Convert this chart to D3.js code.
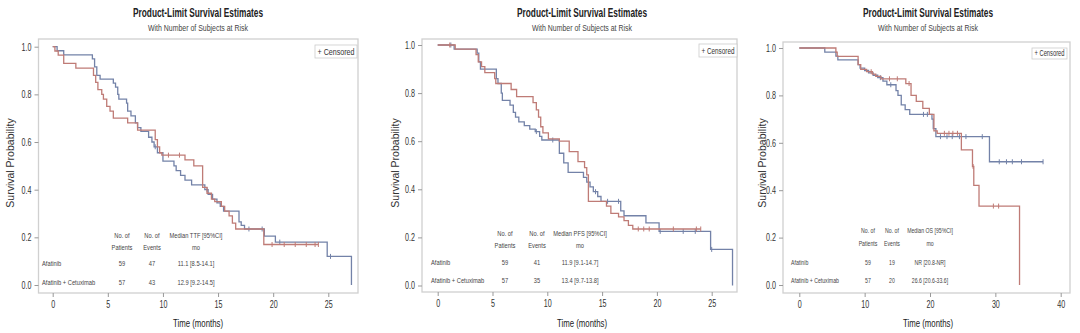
<!DOCTYPE html>
<html><head><meta charset="utf-8">
<script src="https://cdn.jsdelivr.net/npm/d3@7"></script>
<style>
html,body{margin:0;padding:0;background:#fff;}
svg{display:block;}
.nar{font-family:"Liberation Sans Narrow","Arial Narrow","Liberation Sans",Arial,sans-serif;}
.reg{font-family:"Liberation Sans",Arial,sans-serif;}
</style></head>
<body>
<svg id="c" width="1080" height="333"></svg>
<script>
// ---------- DATA ----------
const chartTitle = "Product-Limit Survival Estimates";
const chartSubtitle = "With Number of Subjects at Risk";
const xAxisTitle = "Time (months)";
const yAxisTitle = "Survival Probability";
const legendText = "+ Censored";
const groups = ["Afatinib", "Afatinib + Cetuximab"];
const yTicks = [0.0, 0.2, 0.4, 0.6, 0.8, 1.0];
const xTicksTTF = [0, 5, 10, 15, 20, 25];
const xTicksPFS = [0, 5, 10, 15, 20, 25];
const xTicksOS = [0, 10, 20, 30, 40];

// panel 1: Time to treatment failure
const ttfAfatinib = [[0,1],[0.4,0.983],[1.0,0.966],[3.6,0.949],[3.8,0.915],[4.0,0.88],[4.3,0.864],[5.5,0.847],[5.7,0.83],[5.9,0.80],[6.0,0.78],[6.7,0.763],[6.8,0.73],[7.1,0.71],[7.5,0.68],[7.7,0.66],[8.0,0.645],[8.7,0.62],[9.0,0.60],[9.2,0.58],[9.5,0.555],[10.0,0.52],[11.0,0.50],[11.2,0.48],[11.6,0.46],[12.0,0.44],[12.6,0.42],[13.8,0.40],[14.1,0.38],[14.5,0.36],[14.9,0.345],[15.2,0.33],[15.5,0.31],[16.9,0.265],[17.1,0.25],[17.4,0.235],[19.2,0.205],[20.2,0.18],[24.9,0.12],[27.1,0]];
const ttfCombo = [[0,1],[0.2,0.982],[0.5,0.965],[1.0,0.93],[2.1,0.91],[3.7,0.88],[3.9,0.85],[4.1,0.82],[4.45,0.80],[4.6,0.78],[4.9,0.75],[5.2,0.73],[5.5,0.70],[6.8,0.68],[7.7,0.65],[9.3,0.61],[9.5,0.58],[9.7,0.555],[9.9,0.545],[12.0,0.525],[12.8,0.50],[13.6,0.41],[14.0,0.385],[14.4,0.36],[14.7,0.35],[15.3,0.33],[15.6,0.31],[16.0,0.29],[16.3,0.26],[16.6,0.235],[19.15,0.17],[24.1,0.17]];
const ttfCensAfatinib = [9.3, 14.0, 17.8, 19.0, 20.6, 25.2];
const ttfCensCombo = [10.5, 11.5, 19.9, 21.0, 22.0, 23.0, 23.8, 24.1];
const ttfTable = [["59","47","11.1 [8.5-14.1]"],["57","43","12.9 [9.2-14.5]"]];

// panel 2: Progression-free survival
const pfsAfatinib = [[0,1],[1.5,0.983],[3.6,0.966],[3.75,0.93],[3.9,0.90],[5.35,0.86],[5.5,0.84],[5.8,0.80],[5.9,0.77],[6.6,0.75],[6.9,0.72],[7.1,0.70],[7.4,0.68],[7.9,0.665],[8.4,0.65],[8.9,0.64],[9.3,0.62],[9.5,0.605],[11.1,0.55],[11.5,0.51],[11.9,0.47],[13.3,0.45],[13.6,0.43],[13.9,0.41],[14.2,0.39],[14.6,0.37],[14.9,0.35],[16.7,0.31],[17.0,0.29],[19.0,0.26],[20.2,0.225],[24.9,0.15],[26.9,0]];
const pfsCombo = [[0,1],[1.6,0.983],[3.5,0.96],[3.7,0.93],[4.0,0.91],[4.3,0.885],[5.2,0.86],[5.3,0.84],[6.7,0.815],[7.2,0.785],[8.7,0.76],[9.0,0.73],[9.2,0.70],[9.4,0.66],[9.6,0.635],[10.1,0.61],[11.1,0.60],[12.0,0.557],[12.8,0.515],[13.4,0.49],[13.6,0.46],[13.75,0.35],[15.4,0.33],[15.8,0.30],[16.5,0.285],[17.0,0.27],[17.4,0.25],[17.8,0.235],[24.0,0.235]];
const pfsCensAfatinib = [1.2, 9.0, 10.5, 14.4, 15.5, 16.5, 20.3, 22.4, 23.5, 25.0];
const pfsCensCombo = [1.1, 18.3, 18.8, 19.3, 21.5, 23.6, 24.0];
const pfsTable = [["59","41","11.9 [9.1-14.7]"],["57","35","13.4 [9.7-13.8]"]];

// panel 3: Overall survival
const osAfatinib = [[0,1],[3.9,0.983],[5.6,0.966],[5.9,0.95],[9.0,0.93],[9.3,0.915],[10.0,0.905],[10.6,0.895],[11.3,0.885],[12.0,0.875],[12.8,0.86],[13.4,0.845],[14.8,0.82],[15.1,0.80],[15.6,0.76],[16.2,0.74],[16.9,0.72],[20.3,0.70],[20.5,0.66],[20.9,0.626],[29.1,0.52],[37.3,0.52]];
const osCombo = [[0,1],[5.6,0.982],[5.8,0.965],[9.0,0.93],[9.4,0.91],[10.3,0.90],[11.2,0.89],[11.7,0.88],[12.5,0.87],[16.3,0.85],[17.1,0.80],[17.9,0.775],[18.9,0.745],[19.9,0.72],[20.6,0.65],[21.1,0.64],[24.8,0.57],[26.5,0.50],[26.7,0.42],[27.5,0.333],[33.7,0]];
const osCensAfatinib = [12.4, 14.0, 19.0, 19.6, 21.6, 22.6, 23.4, 24.5, 25.5, 28.0, 30.6, 31.7, 32.6, 34.0, 37.3];
const osCensCombo = [11.0, 13.8, 15.0, 16.8, 22.2, 22.9, 23.5, 24.2, 26.6, 29.7, 30.5];
const osTable = [["59","19","NR [20.8-NR]"],["57","20","26.6 [20.6-33.6]"]];

// ---------- LAYOUT ----------
const colors = ["#7382a8", "#bf7b76"];
const panels = [
  {frame:[38.5,39,358,293], x0:52.7, xT:25, xTpx:328.3, y1:46.7, y0:285, ticks:xTicksTTF,
   a:ttfAfatinib, b:ttfCombo, ca:ttfCensAfatinib, cb:ttfCensCombo, table:ttfTable, med:"Median TTF [95%CI]",
   cx:198, ytx:10, cols:[122,152,196], rowX:42, hy:[235,247], ry:[263,282], leg:[315,45,357,58], tf:0.8},
  {frame:[422,39,737,292], x0:437.7, xT:25, xTpx:711.7, y1:45, y0:285.5, ticks:xTicksPFS,
   a:pfsAfatinib, b:pfsCombo, ca:pfsCensAfatinib, cb:pfsCensCombo, table:pfsTable, med:"Median PFS [95%CI]",
   cx:582, ytx:395, cols:[505,537,580], rowX:431, hy:[233,245], ry:[262,280], leg:[699,44,737,57], tf:0.8},
  {frame:[783,42,1070,293], x0:799.3, xT:40, xTpx:1060.7, y1:48, y0:285, ticks:xTicksOS,
   a:osAfatinib, b:osCombo, ca:osCensAfatinib, cb:osCensCombo, table:osTable, med:"Median OS [95%CI]",
   cx:928, ytx:762, cols:[868,892,930], rowX:791, hy:[230,243], ry:[262,280], leg:[1032,48,1067,59], tf:0.72}
];

const svg = d3.select("#c");

function condense(sel, f){
  sel.each(function(){
    const L = this.getComputedTextLength();
    d3.select(this).attr("textLength", L * f).attr("lengthAdjust", "spacingAndGlyphs");
  });
  return sel;
}
function fitWidth(sel, w){
  sel.attr("textLength", w).attr("lengthAdjust", "spacingAndGlyphs");
  return sel;
}

function stepAt(data, t){
  let s = data[0][1];
  for (const d of data){ if (d[0] <= t) s = d[1]; else break; }
  return s;
}

panels.forEach(p => {
  const g = svg.append("g");
  const [fl, ft, fr, fb] = p.frame;
  const x = d3.scaleLinear().domain([0, p.xT]).range([p.x0, p.xTpx]);
  const y = d3.scaleLinear().domain([0, 1]).range([p.y0, p.y1]);

  // titles
  fitWidth(g.append("text").attr("class","nar").attr("x",p.cx).attr("y",17).attr("text-anchor","middle")
    .attr("font-size",12).attr("font-weight","bold").attr("fill","#222").text(chartTitle), 130);
  fitWidth(g.append("text").attr("class","nar").attr("x",p.cx).attr("y",30.5).attr("text-anchor","middle")
    .attr("font-size",9.5).attr("fill","#444").text(chartSubtitle), 100);

  // frame
  g.append("rect").attr("x",fl).attr("y",ft).attr("width",fr-fl).attr("height",fb-ft)
    .attr("fill","none").attr("stroke","#d0d0d0").attr("stroke-width",1.3);

  // axes
  const yAx = g.append("g").attr("transform",`translate(${fl},0)`)
    .call(d3.axisLeft(y).tickValues(yTicks).tickFormat(d3.format(".1f")).tickSize(4).tickPadding(3));
  const xAx = g.append("g").attr("transform",`translate(0,${fb})`)
    .call(d3.axisBottom(x).tickValues(p.ticks).tickSize(4).tickPadding(4));
  [yAx, xAx].forEach(a => {
    a.select(".domain").remove();
    a.selectAll(".tick line").attr("stroke","#999");
    a.selectAll(".tick text").attr("class","nar").attr("font-size",10.5).attr("fill","#333");
    condense(a.selectAll(".tick text"), 0.68);
  });

  fitWidth(g.append("text").attr("class","nar").attr("x",p.cx).attr("y",327).attr("text-anchor","middle")
    .attr("font-size",11).attr("fill","#222").text(xAxisTitle), 50);
  g.append("text").attr("class","reg").attr("transform",`translate(${p.ytx+4},${163}) rotate(-90)`)
    .attr("text-anchor","middle").attr("font-size",10.5).attr("fill","#333").text(yAxisTitle);

  // legend
  const [lx0, ly0, lx1, ly1] = p.leg;
  g.append("rect").attr("x",lx0).attr("y",ly0).attr("width",lx1-lx0).attr("height",ly1-ly0)
    .attr("fill","#fff").attr("stroke","#ccc").attr("stroke-width",0.8);
  fitWidth(g.append("text").attr("class","nar").attr("x",(lx0+lx1)/2).attr("y",ly1-3.5).attr("text-anchor","middle")
    .attr("font-size",9).attr("fill","#333").text(legendText), lx1-lx0-5);

  // curves
  const line = d3.line().x(d => x(d[0])).y(d => y(d[1])).curve(d3.curveStepAfter);
  [[p.a, p.ca, colors[0]], [p.b, p.cb, colors[1]]].forEach(([data, cens, col]) => {
    g.append("path").datum(data).attr("d", line).attr("fill","none")
      .attr("stroke", col).attr("stroke-width", 1.3);
    g.selectAll(null).data(cens).enter().append("line")
      .attr("x1", d => x(d)).attr("x2", d => x(d))
      .attr("y1", d => y(stepAt(data, d)) - 2.5).attr("y2", d => y(stepAt(data, d)) + 2.5)
      .attr("stroke", col).attr("stroke-width", 1);
  });

  // table
  const fs = 7.2;
  const tf = p.tf;
  const tcol = "#444";
  const headers = [["No. of","Patients"],["No. of","Events"],[p.med,"mo"]];
  headers.forEach((h, i) => {
    h.forEach((s, j) => {
      condense(g.append("text").attr("class","nar").attr("x",p.cols[i]).attr("y",p.hy[j]+2.5)
        .attr("text-anchor","middle").attr("font-size",fs).attr("fill",tcol).text(s), tf);
    });
  });
  groups.forEach((name, r) => {
    condense(g.append("text").attr("class","nar").attr("x",p.rowX).attr("y",p.ry[r]+2.5)
      .attr("font-size",fs).attr("fill",tcol).text(name), tf);
    p.table[r].forEach((v, i) => {
      condense(g.append("text").attr("class","nar").attr("x",p.cols[i]).attr("y",p.ry[r]+2.5)
        .attr("text-anchor","middle").attr("font-size",fs).attr("fill",tcol).text(v), tf);
    });
  });
});
</script>
</body></html>
